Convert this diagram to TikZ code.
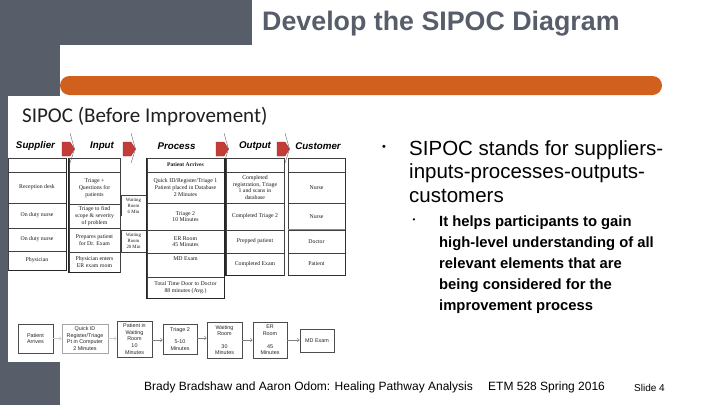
\documentclass[tikz,border=0pt]{standalone}
\usepackage{fontspec}
\setmainfont{Liberation Sans}
\newfontfamily\cellserif{Liberation Serif}
\newfontfamily\carlitofont{Carlito}
\usetikzlibrary{arrows.meta}
\definecolor{slategray}{RGB}{87,94,105}
\definecolor{barorange}{RGB}{209,96,30}
\definecolor{arrowred}{RGB}{196,60,56}
\tikzset{
 cell/.style={draw=black!75, line width=0.45pt, inner sep=0, align=center,
   font=\cellserif\fontsize{5.8}{6.7}\selectfont, text=black!90},
 celltext/.style={inner sep=0, align=center, font=\cellserif\fontsize{5.8}{6.7}\selectfont, text=black!90},
 thickedge/.style={draw=black!85, line width=1.3pt},
 hdr/.style={inner sep=0, font=\bfseries\itshape\fontsize{9.75}{10}\selectfont, text=black},
 sarrow/.style={fill=arrowred, draw=arrowred!75!black, line width=0.3pt},
 chev/.style={draw=black!60, line width=0.4pt},
 flowbox/.style={draw=black!70, line width=0.6pt, inner sep=0, align=center,
   font=\fontsize{5.4}{6.6}\selectfont, text=black!85},
 flowarrow/.style={draw=black!50, line width=0.5pt, -{Straight Barb[length=2pt,width=3.5pt]}},
 bodytext/.style={inner sep=0, anchor=base west, font=\fontsize{20.5}{24}\selectfont, text=black},
 subtext/.style={inner sep=0, anchor=base west, font=\bfseries\fontsize{14.8}{18}\selectfont, text=black},
 foot/.style={inner sep=0, anchor=base west, font=\fontsize{12}{14}\selectfont, text=black},
}
\begin{document}
\begin{tikzpicture}[x=1pt,y=-1pt]
\useasboundingbox (0,0) rectangle (720,405);
\clip (0,0) rectangle (720,405);
% background frame
\fill[white] (0,0) rectangle (720,405);
\fill[slategray] (0,0) rectangle (252,45);
\fill[slategray] (0,0) rectangle (60,405);
\fill[white, rounded corners=10pt] (60,45) rectangle (780,460);
% orange bar
\fill[barorange, rounded corners=9.5pt] (60,76) rectangle (662,95);
% title
\node[inner sep=0, anchor=base west, text=slategray, font=\bfseries\fontsize{26.8}{30}\selectfont] (title) at (262,30) {Develop the SIPOC Diagram};
% embedded picture panel
\fill[white] (8,96) rectangle (350,362);
\node[inner sep=0, anchor=base west, text=black!88, font=\carlitofont\fontsize{21}{24}\selectfont] (ptitle) at (22,122.5) {SIPOC (Before Improvement)};

% headers
\node[hdr] (hS) at (35.5,146) {Supplier};
\node[hdr] (hI) at (102,146) {Input};
\node[hdr] (hP) at (176.5,146) {Process};
\node[hdr] (hO) at (255,146) {Output};
\node[hdr] (hC) at (318,146) {Customer};
% red block arrows
\foreach \ax/\nm in {62/a1,123/a2,216/a3,277/a4}{
  \fill[sarrow] (\ax,142) -- (\ax+8,142) -- (\ax+12.5,149) -- (\ax+8,156) -- (\ax,156) -- cycle;
  \draw[chev] (\ax+8,133) .. controls (\ax+10,141) .. (\ax+12.5,149) .. controls (\ax+10,157) .. (\ax+8,163);
}

% Supplier column
\node[cell, minimum width=58, minimum height=14] (s0) at (37,165) {};
\node[cell, minimum width=58, minimum height=31] (s1) at (37,187.5) {Reception desk};
\node[cell, minimum width=58, minimum height=25] (s2) at (37,215.5) {On duty nurse};
\node[cell, minimum width=58, minimum height=23] (s3) at (37,239.5) {On duty nurse};
\node[cell, minimum width=58, minimum height=19] (s4) at (37,260.5) {Physician};
\draw[thickedge] (s0.north east) -- (s4.south east) -- (s4.south west);

% Input column
\node[cell, minimum width=51, minimum height=14] (i0) at (94.5,165) {};
\node[cell, minimum width=51, minimum height=32] (i1) at (94.5,188) {Triage +\\Questions for\\patients};
\node[cell, minimum width=51, minimum height=24] (i2) at (94.5,216) {Triage to find\\scope \& severity\\of problem};
\node[cell, minimum width=51, minimum height=24] (i3) at (94.5,240) {Prepares patient\\for Dr. Exam};
\node[cell, minimum width=51, minimum height=20] (i4) at (94.5,262) {Physician enters\\ER exam room};
\draw[thickedge] (i0.north west) -- (i4.south west) -- (i4.south east);

% Waiting boxes
\node[celltext, font=\cellserif\fontsize{4.8}{6.2}\selectfont] (w1) at (133.5,206) {Waiting\\Room\\6 Min};
\draw[draw=black!75, line width=0.45pt] (121,216) -- (121,195) -- (146,195) -- (146,216);
\node[cell, minimum width=25, minimum height=22, font=\cellserif\fontsize{4.8}{6.2}\selectfont] (w2) at (133.5,241) {Waiting\\Room\\20 Min};

% Process column
\node[cell, minimum width=77, minimum height=14, font=\cellserif\bfseries\fontsize{5.6}{6.6}\selectfont] (p0) at (185.5,165) {Patient Arrives};
\node[cell, minimum width=77, minimum height=31] (p1) at (185.5,187.5) {Quick ID/Register/Triage 1\\Patient placed in Database\\2 Minutes};
\node[cell, minimum width=77, minimum height=27] (p2) at (185.5,216.5) {Triage 2\\10 Minutes};
\node[cell, minimum width=77, minimum height=23] (p3) at (185.5,241.5) {ER Room\\45 Minutes};
\node[cell, minimum width=77, minimum height=24] (p4) at (185.5,265) {};
\node[celltext] (p4t) at (185.5,259) {MD Exam};
\node[cell, minimum width=77, minimum height=21] (p5) at (185.5,287.5) {Total Time Door to Doctor\\88 minutes (Avg.)};
\draw[thickedge] (p0.north west) -- (p5.south west) -- (p5.south east) -- (p0.north east);

% Output column
\node[cell, minimum width=58, minimum height=14] (o0) at (255,165) {};
\node[cell, minimum width=58, minimum height=31] (o1) at (255,187.5) {Completed\\registration, Triage\\1 and scans in\\database};
\node[cell, minimum width=58, minimum height=27] (o2) at (255,216.5) {Completed Triage 2};
\node[cell, minimum width=58, minimum height=23] (o3) at (255,241.5) {Prepped patient};
\node[cell, minimum width=58, minimum height=22] (o4) at (255,264) {Completed Exam};
\draw[thickedge] (o0.north west) -- (o4.south west) -- (o4.south east);

% Customer column
\node[cell, minimum width=57, minimum height=14] (c0) at (316.5,165) {};
\node[cell, minimum width=57, minimum height=31] (c1) at (316.5,187.5) {Nurse};
\node[cell, minimum width=57, minimum height=27] (c2) at (316.5,216.5) {Nurse};
\node[cell, minimum width=57, minimum height=23] (c3) at (316.5,241.5) {Doctor};
\node[cell, minimum width=57, minimum height=22] (c4) at (316.5,264) {Patient};
\draw[draw=black!45, line width=1.2pt] (c3.north west) -- (c3.north east);
\draw[draw=black!80, line width=0.8pt] (c0.north east) -- (c4.south east) -- (c4.south west);

% bottom flow chart
\node[flowbox, minimum width=35, minimum height=29] (f1) at (35.5,338.5) {Patient\\Arrives};
\node[flowbox, draw=black!35, minimum width=46, minimum height=29] (f2) at (85,338.5) {Quick ID\\Register/Triage\\Pt in Computer\\2 Minutes};
\node[flowbox, minimum width=35, minimum height=36] (f3) at (134.5,339) {Patient in\\Waiting\\Room\\10\\Minutes};
\node[flowbox, minimum width=34, minimum height=30] (f4) at (180,339) {Triage 2\\[6pt]5-10\\Minutes};
\node[flowbox, minimum width=35, minimum height=36] (f5) at (224.5,340) {Waiting\\Room\\[6pt]30\\Minutes};
\node[flowbox, minimum width=34, minimum height=36] (f6) at (270,340) {ER\\Room\\[6pt]45\\Minutes};
\node[flowbox, minimum width=34, minimum height=23] (f7) at (317,340.5) {MD Exam};
\draw[flowarrow, draw=black!20] (f1.east) -- (f1.east -| f2.west);
\draw[flowarrow, draw=black!20] (f2.east) -- (f2.east -| f3.west);
\draw[flowarrow] ([yshift=-1pt]f3.east) -- ([yshift=-1pt]f3.east -| f4.west);
\draw[flowarrow] ([yshift=1pt]f4.east) -- ([yshift=1pt]f4.east -| f5.west);
\draw[flowarrow] (f5.east) -- (f5.east -| f6.west);
\draw[flowarrow] (f6.east) -- (f6.east -| f7.west);

% right bullet text
\node[inner sep=0, font=\fontsize{11}{11}\selectfont] (bul1) at (384,148) {•};
\node[bodytext] (t1) at (409,155) {SIPOC stands for suppliers-};
\node[bodytext] (t2) at (409,178.9) {inputs-processes-outputs-};
\node[bodytext] (t3) at (409,202.7) {customers};
\node[inner sep=0, font=\fontsize{8}{8}\selectfont] (bul2) at (414,221) {•};
\node[subtext] (u1) at (439,226.5) {It helps participants to gain};
\node[subtext] (u2) at (439,247.5) {high-level understanding of all};
\node[subtext] (u3) at (439,268.5) {relevant elements that are};
\node[subtext] (u4) at (439,289.5) {being considered for the};
\node[subtext] (u5) at (439,310.5) {improvement process};

% footer
\node[foot] (ft1) at (144,390) {Brady Bradshaw and Aaron Odom: Healing Pathway Analysis};
\node[foot] (ft2) at (488,390) {ETM 528 Spring 2016};
\node[foot, font=\fontsize{10}{12}\selectfont] (ft3) at (634,391) {Slide 4};
\end{tikzpicture}
\end{document}
